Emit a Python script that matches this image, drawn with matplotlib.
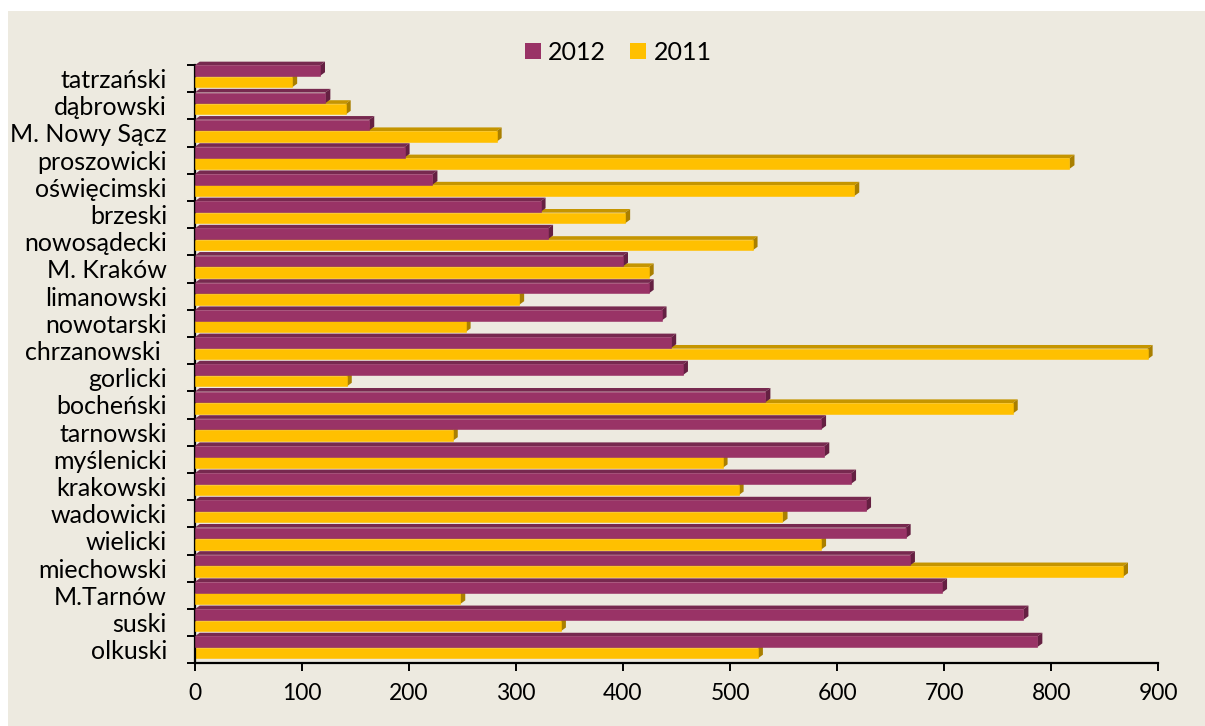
import matplotlib.pyplot as plt
from matplotlib.patches import Polygon, Rectangle, Patch

powiaty = ['olkuski', 'suski', 'M.Tarnów', 'miechowski', 'wielicki', 'wadowicki',
           'krakowski', 'myślenicki', 'tarnowski', 'bocheński', 'gorlicki',
           'chrzanowski ', 'nowotarski', 'limanowski', 'M. Kraków', 'nowosądecki',
           'brzeski', 'oświęcimski', 'proszowicki', 'M. Nowy Sącz', 'dąbrowski',
           'tatrzański']
v2012 = [787, 774, 698, 668, 664, 627, 613, 588, 585, 533, 456,
         445, 436, 424, 400, 330, 323, 222, 196, 163, 122, 117]
v2011 = [526, 342, 248, 867, 585, 549, 508, 493, 241, 764, 142,
         890, 253, 303, 424, 521, 402, 616, 817, 282, 141, 91]

bg = '#EDEAE0'
purple = ('#993366', '#77294F', '#652042')
yellow = ('#FFC000', '#C59500', '#A97F00')

# bar layout in category units, depth of the 3d effect in data units
h = 0.39
off12 = 0.098
off11 = -0.32
dx = 4.7
dy = 0.135

plt.rcParams['font.family'] = ['Lato', 'DejaVu Sans']

fig = plt.figure(figsize=(12.05, 7.26), dpi=100, facecolor='white')
fig.patches.append(Rectangle((8 / 1205, 0), 1, 1 - 11 / 726, transform=fig.transFigure,
                             facecolor=bg, edgecolor='none', zorder=-10))
ax = fig.add_axes([194.7 / 1205, 62.7 / 726, 963.6 / 1205, 598.3 / 726])
ax.set_facecolor('none')


def bar3d(y0, v, cols, z):
    top = y0 + h
    ax.add_patch(Polygon([(0, top), (v, top), (v + dx, top + dy), (dx, top + dy)],
                         closed=True, facecolor=cols[1], edgecolor='none',
                         zorder=z, clip_on=False))
    ax.add_patch(Polygon([(v, y0), (v, top), (v + dx, top + dy), (v + dx, y0 + dy)],
                         closed=True, facecolor=cols[2], edgecolor='none',
                         zorder=z, clip_on=False))
    ax.barh(y0, v, height=h, align='edge', color=cols[0],
            edgecolor=cols[0], linewidth=0.4, zorder=z + 0.5)


for i in range(len(powiaty)):
    bar3d(i + off11, v2011[i], yellow, 2 + i * 0.01)
    bar3d(i + off12, v2012[i], purple, 3 + i * 0.01)

ax.set_xlim(0, 900)
ax.set_ylim(-0.5, len(powiaty) - 0.5)
ax.set_xticks(range(0, 1000, 100))
ax.set_yticks(range(len(powiaty)))
ax.set_yticklabels(powiaty, fontsize=18)
ax.set_yticks([k - 0.5 for k in range(len(powiaty) + 1)], minor=True)
ax.tick_params(axis='y', which='major', length=0, pad=20)
ax.tick_params(axis='y', which='minor', length=5.5, width=1.4, direction='out')
ax.tick_params(axis='x', length=6, width=1.4, pad=8, labelsize=16.5)

for s in ['top', 'right']:
    ax.spines[s].set_visible(False)
for s in ['left', 'bottom']:
    ax.spines[s].set_linewidth(1.6)

handles = [Patch(facecolor=purple[0], label='2012'),
           Patch(facecolor=yellow[0], label='2011')]
fig.legend(handles=handles, loc='center', bbox_to_anchor=(0.513, 0.928), ncol=2,
           frameon=False, fontsize=18, handlelength=0.65, handleheight=0.65,
           handletextpad=0.3, columnspacing=0.95)

fig.savefig('out.png', dpi=100, facecolor=fig.get_facecolor())
